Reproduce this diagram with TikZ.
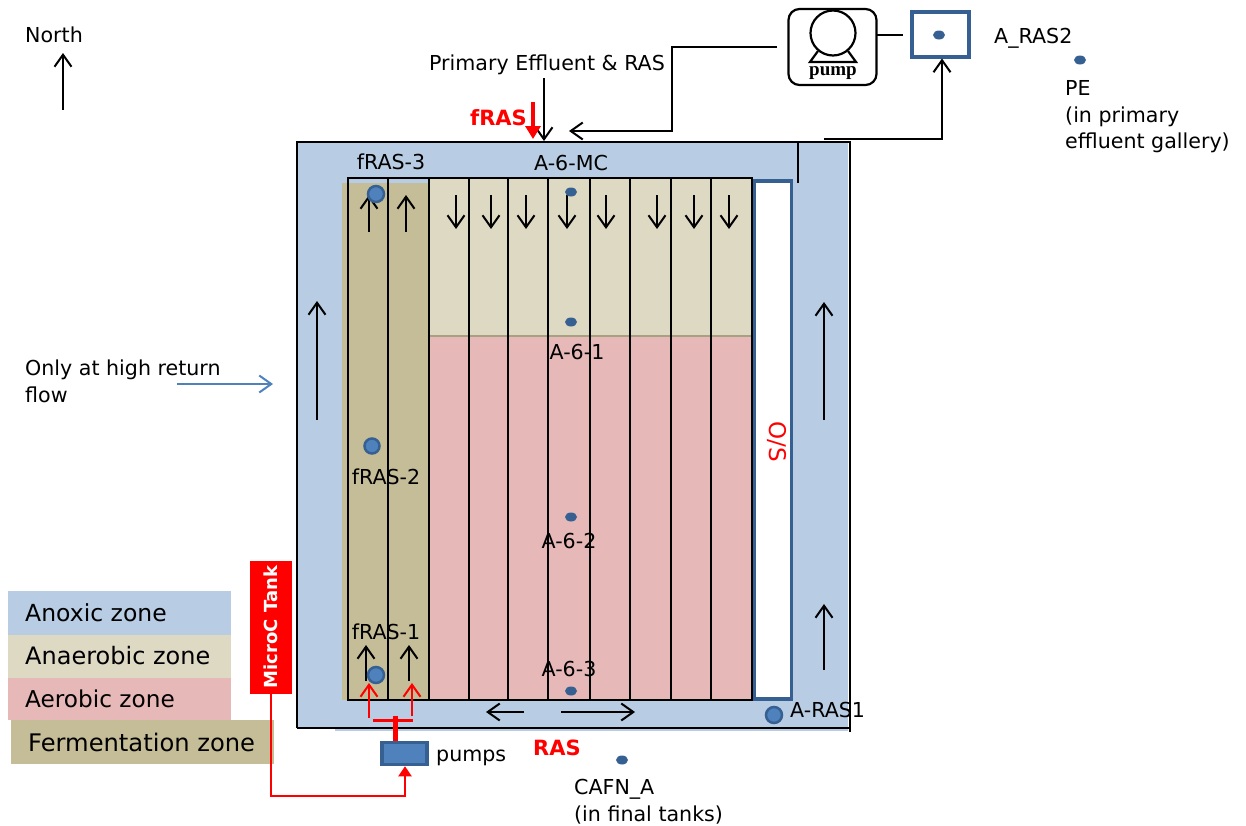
\documentclass[tikz,border=0pt]{standalone}
\usepackage{fontspec}
\setmainfont{DejaVu Sans}
\newfontfamily\pumpfont{Liberation Serif}
\usepackage{tikz}
\usetikzlibrary{arrows.meta,positioning,calc,shapes.geometric}
\definecolor{anoxic}{RGB}{184,204,228}
\definecolor{anaerobic}{RGB}{221,217,195}
\definecolor{aerobic}{RGB}{230,184,183}
\definecolor{ferment}{RGB}{196,189,151}
\definecolor{deepblue}{RGB}{54,96,146}
\definecolor{dotblue}{RGB}{79,129,189}
\begin{document}
\begin{tikzpicture}[x=1pt,y=-1pt,font=\fontsize{20.6}{25}\selectfont,>={Straight Barb[length=12pt,width=17pt,line width=2pt]},line join=miter,
wall/.style={draw=black,line width=2.2pt},
flow/.style={->,black,line width=2.2pt},
redflow/.style={->,red,line width=2pt},
zone/.style={draw=none,minimum width=#1,inner sep=0pt,anchor=north west},
legend/.style={anchor=west,inner sep=0pt},
lbl/.style={inner sep=0pt},
samplept/.style={ellipse,fill=deepblue,inner sep=0pt,minimum width=12pt,minimum height=9pt},
bigpt/.style={circle,fill=dotblue,draw=deepblue,line width=2.5pt,inner sep=0pt,minimum size=16pt}]
\useasboundingbox (0,0) rectangle (1246,825);
% legend
\node[zone=223pt,minimum height=44pt,fill=anoxic] (kanox) at (8,591) {};
\node[zone=223pt,minimum height=43pt,fill=anaerobic] (kanae) at (8,635) {};
\node[zone=223pt,minimum height=42pt,fill=aerobic] (kaero) at (8,678) {};
\node[zone=263pt,minimum height=44pt,fill=ferment] (kferm) at (11,720) {};
\node[legend,font=\fontsize{23.5}{25}\selectfont] at (25,613) {Anoxic zone};
\node[legend,font=\fontsize{24}{25}\selectfont] at (25,656) {Anaerobic zone};
\node[legend,font=\fontsize{23.2}{25}\selectfont] at (25,699) {Aerobic zone};
\node[legend,font=\fontsize{24.2}{25}\selectfont] at (28,742) {Fermentation zone};
% tank
\fill[anoxic] (298,142) rectangle (848,728);
\fill[anoxic] (335,728) rectangle (848,731);
\fill[ferment] (342,183) rectangle (429,700);
\fill[anaerobic] (429,178) rectangle (752,335);
\fill[aerobic] (429,337) rectangle (752,700);
\draw[ferment!85!black,line width=2.5pt] (429,336)--(752,336);
\draw[wall] (297,728)--(297,142)--(850,142)--(850,732);
\draw[wall] (297,728)--(849,728);
\draw[wall] (348,178) rectangle (752,700);
\foreach \x in {388,429,469,508,548,590,630,671,711}{\draw[wall] (\x,178)--(\x,700);}
\node[draw=deepblue,fill=white,line width=3.5pt,minimum width=37pt,minimum height=518pt,inner sep=0pt] (os) at (773,440) {};
\node[red,rotate=-90,lbl,font=\fontsize{23}{25}\selectfont] at (777,442) {O/S};
\coordinate (stub1) at (798,142);\coordinate (stub2) at (798,183);
\draw[wall] (stub1)--(stub2);
% flow arrows
\foreach \x in {369,406}{\coordinate (ua) at (\x,232);\coordinate (ub) at (\x,195);\draw[flow] (ua)--(ub);}
\foreach \x in {456,491,526,567,606,657,694,729}{\coordinate (da) at (\x,195);\coordinate (db) at (\x,229);\draw[flow] (da)--(db);}
\foreach \x/\ya/\yb in {317/420/301,824/420/302,824/670/604,366/681/645,409/681/645}{\coordinate (fa) at (\x,\ya);\coordinate (fb) at (\x,\yb);\draw[flow] (fa)--(fb);}
\coordinate (bot) at (524,712);\coordinate (botl) at (486,712);
\coordinate (botr0) at (561,712);\coordinate (botr) at (635,712);
\draw[flow] (bot)--(botl);
\draw[flow] (botr0)--(botr);
% sampling points
\node[bigpt] (f3) at (376,194) {};
\node[bigpt,minimum size=15pt] (f2) at (372,446) {};
\node[bigpt] (f1) at (376,675) {};
\node[bigpt] (ar1) at (774,715) {};
\foreach \n/\x/\y in {mc/571/192,a1/571/322,a2/571/517,a3/571/691,cafn/622/760,pe/1080/60,ar2/939/35}{\node[samplept] (\n) at (\x,\y) {};}
\node[lbl] at (391,162) {fRAS-3};
\node[lbl] at (386,477) {fRAS-2};
\node[lbl] at (386,632) {fRAS-1};
\node[lbl] at (571,163) {A-6-MC};
\node[lbl] at (577,352) {A-6-1};
\node[lbl] at (569,541) {A-6-2};
\node[lbl] at (569,669) {A-6-3};
\node[lbl,anchor=west] at (790,710) {A-RAS1};
% top: pump and return line
\node[draw=black,line width=2.2pt,rounded corners=11pt,minimum width=88pt,minimum height=76pt,inner sep=0pt] (pump) at (832.5,47) {};
\node[circle,draw=black,line width=2.2pt,minimum size=45pt,inner sep=0pt] (impel) at (833,33) {};
\draw[line width=2.2pt] ($(impel)+(-15,18)$)--(810,62)--(856,62)--($(impel)+(15,18)$);
\node[font=\fontsize{19}{19}\selectfont\pumpfont\bfseries,lbl] at (833,73) {pump};
\node[draw=deepblue,line width=4pt,minimum width=57pt,minimum height=45pt,inner sep=0pt] (abox) at (940.5,34) {};
\coordinate (pumpr) at (876,35);\coordinate (aboxl) at (903,35);
\draw[wall] (pumpr)--(aboxl);
\coordinate (ret0) at (824,139);\coordinate (retc) at (942,139);
\draw[->,line width=2pt] (ret0)--(retc)--(abox.south -| retc);
\coordinate (pl0) at (777,47);\coordinate (pl1) at (672,47);\coordinate (pl2) at (672,131);\coordinate (pl3) at (569,131);
\draw[->,line width=2pt] (pl0)--(pl1)--(pl2)--(pl3);
\node[lbl] (prim) at (547,65) {Primary Effluent \& RAS};
\coordinate (pri0) at (544,78);\coordinate (pri1) at (544,141);
\draw[->,line width=2pt] (pri0)--(pri1);
\node[lbl,red,font=\fontsize{21}{25}\selectfont\bfseries] at (498.5,118) {fRAS};
\coordinate (fr0) at (533,102);\coordinate (fr1) at (533,139);
\draw[-{Triangle[length=13pt,width=15pt]},red,line width=4.5pt] (fr0)--(fr1);
\node[lbl,anchor=west] at (994,38) {A\_RAS2};
\node[lbl,anchor=north west,align=left,font=\fontsize{20.6}{26.5}\selectfont] at (1065,80.5) {PE\\(in primary\\effluent gallery)};
% north, note
\node[lbl,anchor=west] at (25,35) {North};
\coordinate (n0) at (63,110);\coordinate (n1) at (63,53);
\draw[flow] (n0)--(n1);
\node[lbl,anchor=north west,align=left,font=\fontsize{20.6}{26.5}\selectfont] at (25,360) {Only at high return\\flow};
\coordinate (h0) at (177,384);\coordinate (h1) at (273,384);
\draw[->,dotblue,line width=1.3pt] (h0)--(h1);
% microC feed
\node[fill=red,minimum width=42pt,minimum height=133pt,inner sep=0pt] (micro) at (271,627.5) {};
\node[white,rotate=90,lbl,font=\fontsize{18}{20}\selectfont\bfseries] at (271,627) {MicroC Tank};
\node[draw=deepblue,fill=dotblue,line width=3.5pt,minimum width=45pt,minimum height=22pt,inner sep=0pt] (pumps) at (404.5,753.5) {};
\node[lbl,anchor=west] at (436,758) {pumps};
\coordinate (mc1) at (271,796);\coordinate (mc2) at (405,796);
\draw[-{Triangle[length=10pt,width=13pt]},red,line width=2pt] (micro.south -| mc1)--(mc1)--(mc2)--(pumps.south -| mc2);
\coordinate (t0) at (395,716);
\draw[red,line width=5pt] (pumps.north -| t0)--(t0);
\coordinate (tl) at (373,720);\coordinate (tr) at (413,720);
\draw[red,line width=3pt] (tl)--(tr);
\coordinate (r1a) at (369,718);\coordinate (r1b) at (369,683);
\coordinate (r2a) at (412,716);\coordinate (r2b) at (412,683);
\draw[redflow] (r1a)--(r1b);
\draw[redflow] (r2a)--(r2b);
\node[lbl,red,font=\fontsize{21}{25}\selectfont\bfseries] at (557,748) {RAS};
\node[lbl,anchor=north west,align=left,font=\fontsize{20.6}{26.5}\selectfont] at (574,779) {CAFN\_A\\(in final tanks)};
\end{tikzpicture}
\end{document}
